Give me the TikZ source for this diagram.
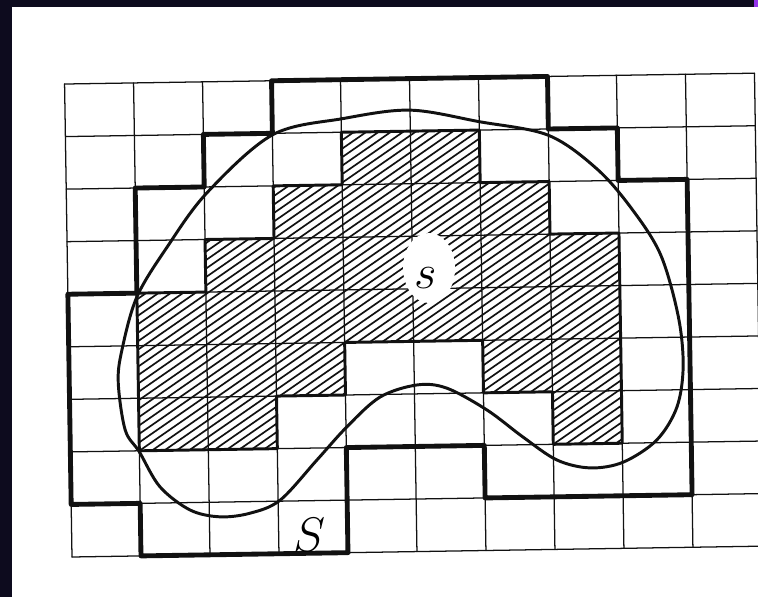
\RequirePackage{fix-cm}
\documentclass[tikz,border=0pt]{standalone}
\usepackage{amsmath,amssymb}
\usetikzlibrary{calc}
\definecolor{FrameNavy}{HTML}{0D0B1E}
\definecolor{MarkViolet}{HTML}{9333EA}
\definecolor{InkBlack}{HTML}{111111}

\begin{document}
\begin{tikzpicture}[
  line cap=round, line join=round,
  gridline/.style={InkBlack, line width=1.2pt},
  hatchline/.style={InkBlack, line width=1.6pt},
  innerrim/.style={InkBlack, line width=2.8pt},
  outerrim/.style={InkBlack, line width=4.6pt},
  kidney/.style={InkBlack, line width=2.8pt},
  biglabel/.style={inner sep=0pt, font=\fontsize{46}{50}\selectfont}
]

% Page (758 x 597 px, 30 px per cm)
\useasboundingbox (0,0) rectangle (25.267,19.9);
\fill[white] (0,0) rectangle (25.267,19.9);

% Dark frame on top and left, small violet mark
\fill[FrameNavy] (0,19.657) rectangle (25.267,19.9);
\fill[FrameNavy] (0,0) rectangle (0.39,19.9);
\fill[MarkViolet] (25.133,19.657) rectangle (25.267,19.9);

% === Scanned grid, slightly tilted ===
\begin{scope}[shift={(2.4,1.333)}, rotate=0.9, x=2.3cm, y=1.752cm]

  % Hatched inner region
  \begin{scope}
    \clip (1,2) -- (1,5) -- (2,5) -- (2,6) -- (3,6) -- (3,7) -- (4,7) -- (4,8)
      -- (6,8) -- (6,7) -- (7,7) -- (7,6) -- (8,6) -- (8,2) -- (7,2) -- (7,3)
      -- (6,3) -- (6,4) -- (4,4) -- (4,3) -- (3,3) -- (3,2) -- cycle;
    \foreach \k in {-46,...,34} {
      \draw[hatchline] (\k/5.5,0) -- ++(10,8.8);
    }
  \end{scope}

  % Grid lines
  \foreach \i in {0,...,10} {
    \draw[gridline] (\i,0) -- (\i,9);
  }
  \foreach \j in {0,...,9} {
    \draw[gridline] (0,\j) -- (10,\j);
  }

  % Rim of the hatched region
  \draw[innerrim] (1,2) -- (1,5) -- (2,5) -- (2,6) -- (3,6) -- (3,7) -- (4,7) -- (4,8)
    -- (6,8) -- (6,7) -- (7,7) -- (7,6) -- (8,6) -- (8,2) -- (7,2) -- (7,3)
    -- (6,3) -- (6,4) -- (4,4) -- (4,3) -- (3,3) -- (3,2) -- cycle;

  % Outer cover S
  \draw[outerrim] (3,9) -- (7,9) -- (7,8) -- (8,8) -- (8,7) -- (9,7) -- (9,1)
    -- (6,1) -- (6,2) -- (4,2) -- (4,0) -- (1,0) -- (1,1) -- (0,1) -- (0,5)
    -- (1,5) -- (1,7) -- (2,7) -- (2,8) -- (3,8) -- cycle;

  % The curved region
  \draw[kidney] plot[smooth cycle, tension=0.55] coordinates {
    (5.0,8.40) (6.0,8.16) (7.0,7.88) (7.7,7.22) (8.2,6.44) (8.6,5.57)
    (8.84,4.40) (8.90,3.45) (8.80,2.67) (8.50,2.05) (8.01,1.64) (7.53,1.54)
    (7.05,1.70) (6.56,2.15) (6.05,2.67) (5.47,3.10) (5.04,3.17) (4.50,2.95)
    (4.01,2.39) (3.57,1.77) (3.03,1.02) (2.59,0.78) (2.15,0.72) (1.72,0.86)
    (1.29,1.31) (1.0,1.98) (0.80,2.40) (0.71,3.30) (0.77,3.92) (1.0,4.93)
    (1.45,5.87) (2.04,6.89) (3.0,7.97) (4.03,8.26)
  };

  % Labels
  \fill[white] (5.24,5.39) ellipse (0.377 and 0.666);
  \node[biglabel] (lbls) at (5.19,5.20) {$s$};
  \node[biglabel] (lblS) at (3.44,0.35) {$S$};

\end{scope}

\end{tikzpicture}
\end{document}
